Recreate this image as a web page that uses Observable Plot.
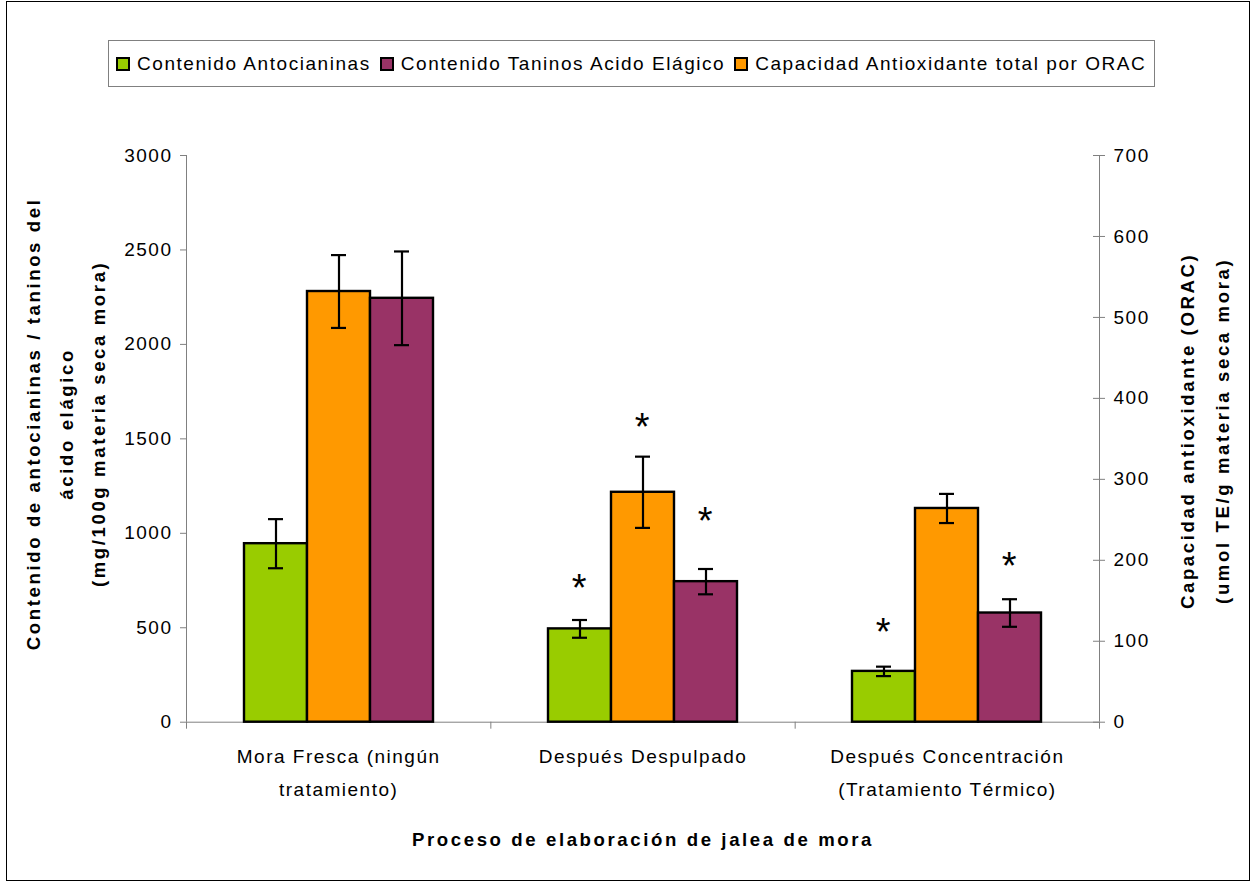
<!DOCTYPE html>
<html>
<head>
<meta charset="utf-8">
<script src="https://cdn.jsdelivr.net/npm/d3@7"></script>
<script src="https://cdn.jsdelivr.net/npm/@observablehq/plot@0.6"></script>
<style>
  body { margin: 0; background: #fff; }
  #wrap { position: relative; width: 1253px; height: 886px; font-family: "Liberation Sans", Arial, sans-serif; }
  #border { position: absolute; left: 6px; top: 1px; width: 1244px; height: 880px; border: 1px solid #000; box-sizing: border-box; }
  #legend { position: absolute; left: 108px; top: 40px; width: 1047px; height: 47px; border: 1px solid #808080; box-sizing: border-box;
            display: flex; align-items: center; padding-left: 7px; font-size: 19px; letter-spacing: 1.55px; white-space: nowrap; }
  .item { display: flex; align-items: center; margin-right: 9px; }
  .sw { width: 10px; height: 10px; border: 2px solid #000; margin-right: 7px; }
  .layer { position: absolute; left: 0; top: 0; }
  .layer text { letter-spacing: 1.5px; }
  .layer g[font-weight="bold"] text { letter-spacing: 2.6px; }
</style>
</head>
<body>
<div id="wrap">
  <div id="border"></div>
  <div id="legend"></div>
</div>
<script>
// ---- data ----
const groups = ["Mora Fresca (ningún\ntratamiento)", "Después Despulpado", "Después Concentración\n(Tratamiento Térmico)"];
const barSeries = ["Contenido Antocianinas", "Capacidad Antioxidante total por ORAC", "Contenido Taninos Acido Elágico"];
const legendSeries = ["Contenido Antocianinas", "Contenido Taninos Acido Elágico", "Capacidad Antioxidante total por ORAC"];
const seriesColors = ["#99CC00", "#FF9900", "#993366"];

const antocianinas = [945, 494, 269];
const antocianinasErr = [130, 47, 25];
const orac = [532, 284, 264];
const oracErr = [45, 44, 18];
const taninos = [2244, 744, 578];
const taninosErr = [248, 67, 73];

// significance asterisks: height in the series' own axis units (null = none)
const antocianinasStar = [null, 755, 522];
const oracStar = [null, 375, null];
const taninosStar = [null, 1110, 872];

const leftTicks = [0, 500, 1000, 1500, 2000, 2500, 3000];
const rightTicks = [0, 100, 200, 300, 400, 500, 600, 700];

const leftTitle = "Contenido de antocianinas / taninos del\nácido elágico\n(mg/100g materia seca mora)";
const rightTitle = "Capacidad antioxidante (ORAC)\n(umol TE/g materia seca mora)";
const xTitle = "Proceso de elaboración de jalea de mora";

// ---- build table ----
const leftMax = 3000, rightMax = 700;
const k = leftMax / rightMax;
const seriesData = [
  {name: barSeries[0], v: antocianinas, e: antocianinasErr, s: antocianinasStar, f: 1},
  {name: barSeries[1], v: orac, e: oracErr, s: oracStar, f: k},
  {name: barSeries[2], v: taninos, e: taninosErr, s: taninosStar, f: 1}
];
const rows = [];
groups.forEach((g, i) => {
  seriesData.forEach(sd => {
    rows.push({
      group: g, series: sd.name,
      yv: sd.v[i] * sd.f,
      lo: (sd.v[i] - sd.e[i]) * sd.f,
      hi: (sd.v[i] + sd.e[i]) * sd.f,
      starY: sd.s[i] == null ? null : sd.s[i] * sd.f
    });
  });
});

// ---- legend ----
const legend = document.getElementById("legend");
legendSeries.forEach(name => {
  const it = document.createElement("div");
  it.className = "item";
  const sw = document.createElement("div");
  sw.className = "sw";
  sw.style.background = seriesColors[barSeries.indexOf(name)];
  const tx = document.createElement("span");
  tx.textContent = name;
  it.appendChild(sw); it.appendChild(tx);
  legend.appendChild(it);
});

// ---- common layout ----
const W = 1253, H = 886;
const common = {
  width: W, height: H,
  marginLeft: 186, marginRight: 154, marginTop: 155, marginBottom: 164.3,
  style: {fontFamily: "'Liberation Sans', Arial, sans-serif", fontSize: "19px", color: "black", background: "transparent", overflow: "visible"}
};
const gray = "#808080";

// Layer A: axes, labels, titles
const plotA = Plot.plot({
  ...common,
  x: {domain: [0, groups.length], axis: null},
  y: {domain: [0, leftMax], axis: null},
  marks: [
    Plot.ruleY([0], {stroke: gray}),
    Plot.ruleX([0, groups.length], {stroke: gray}),
    Plot.axisX(d3.range(groups.length + 1), {anchor: "bottom", tickSize: 7, stroke: gray, tickFormat: () => ""}),
    Plot.axisY(leftTicks, {anchor: "left", tickSize: 6, tickPadding: 8, stroke: gray, tickFormat: d => String(d)}),
    Plot.ruleY(rightTicks.map(v => v * k), {x1: groups.length, x2: groups.length, insetLeft: -6, insetRight: -6, stroke: gray}),
    Plot.axisY(rightTicks.map(v => v * k), {anchor: "right", tickSize: 0, tickPadding: 14, tickFormat: d => String(Math.round(d / k))}),
    Plot.text(groups, {x: (d, i) => i + 0.5, frameAnchor: "bottom", lineAnchor: "top", dy: 17, lineHeight: 1.74, fontSize: 19}),
    Plot.text([xTitle], {frameAnchor: "bottom", dy: 124, fontWeight: "bold", fontSize: 18.6}),
    Plot.text([leftTitle], {frameAnchor: "left", textAnchor: "middle", lineAnchor: "middle", rotate: -90, dx: -124, dy: -15, fontWeight: "bold", fontSize: 18.6, lineHeight: 1.75}),
    Plot.text([rightTitle], {frameAnchor: "right", textAnchor: "middle", lineAnchor: "middle", dx: 101, dy: -8, rotate: -90, fontWeight: "bold", fontSize: 18.6, lineHeight: 1.85})
  ]
});

// Layer B: grouped bars with error bars (faceted by process step)
const plotB = Plot.plot({
  ...common,
  facet: {data: rows, x: "group"},
  fx: {domain: groups, paddingInner: 0.372, paddingOuter: 0.186, axis: null, label: null},
  x: {domain: barSeries, padding: 0, axis: null},
  y: {domain: [0, leftMax], axis: null},
  color: {domain: barSeries, range: seriesColors},
  marks: [
    Plot.barY(rows, {x: "series", y: "yv", fill: "series", stroke: "black", strokeWidth: 2.4}),
    Plot.ruleX(rows, {x: "series", y1: "lo", y2: "hi", stroke: "black", strokeWidth: 2.2}),
    Plot.tickY(rows, {x: "series", y: "hi", insetLeft: 24, insetRight: 24, stroke: "black", strokeWidth: 2.2}),
    Plot.tickY(rows, {x: "series", y: "lo", insetLeft: 24, insetRight: 24, stroke: "black", strokeWidth: 2.2}),
    Plot.text(rows, {filter: d => d.starY != null, x: "series", y: "starY", text: () => "*", fontSize: 38, dy: 9})
  ]
});

plotA.classList.add("layer");
plotB.classList.add("layer");
const wrap = document.getElementById("wrap");
wrap.appendChild(plotA);
wrap.appendChild(plotB);
</script>
</body>
</html>
